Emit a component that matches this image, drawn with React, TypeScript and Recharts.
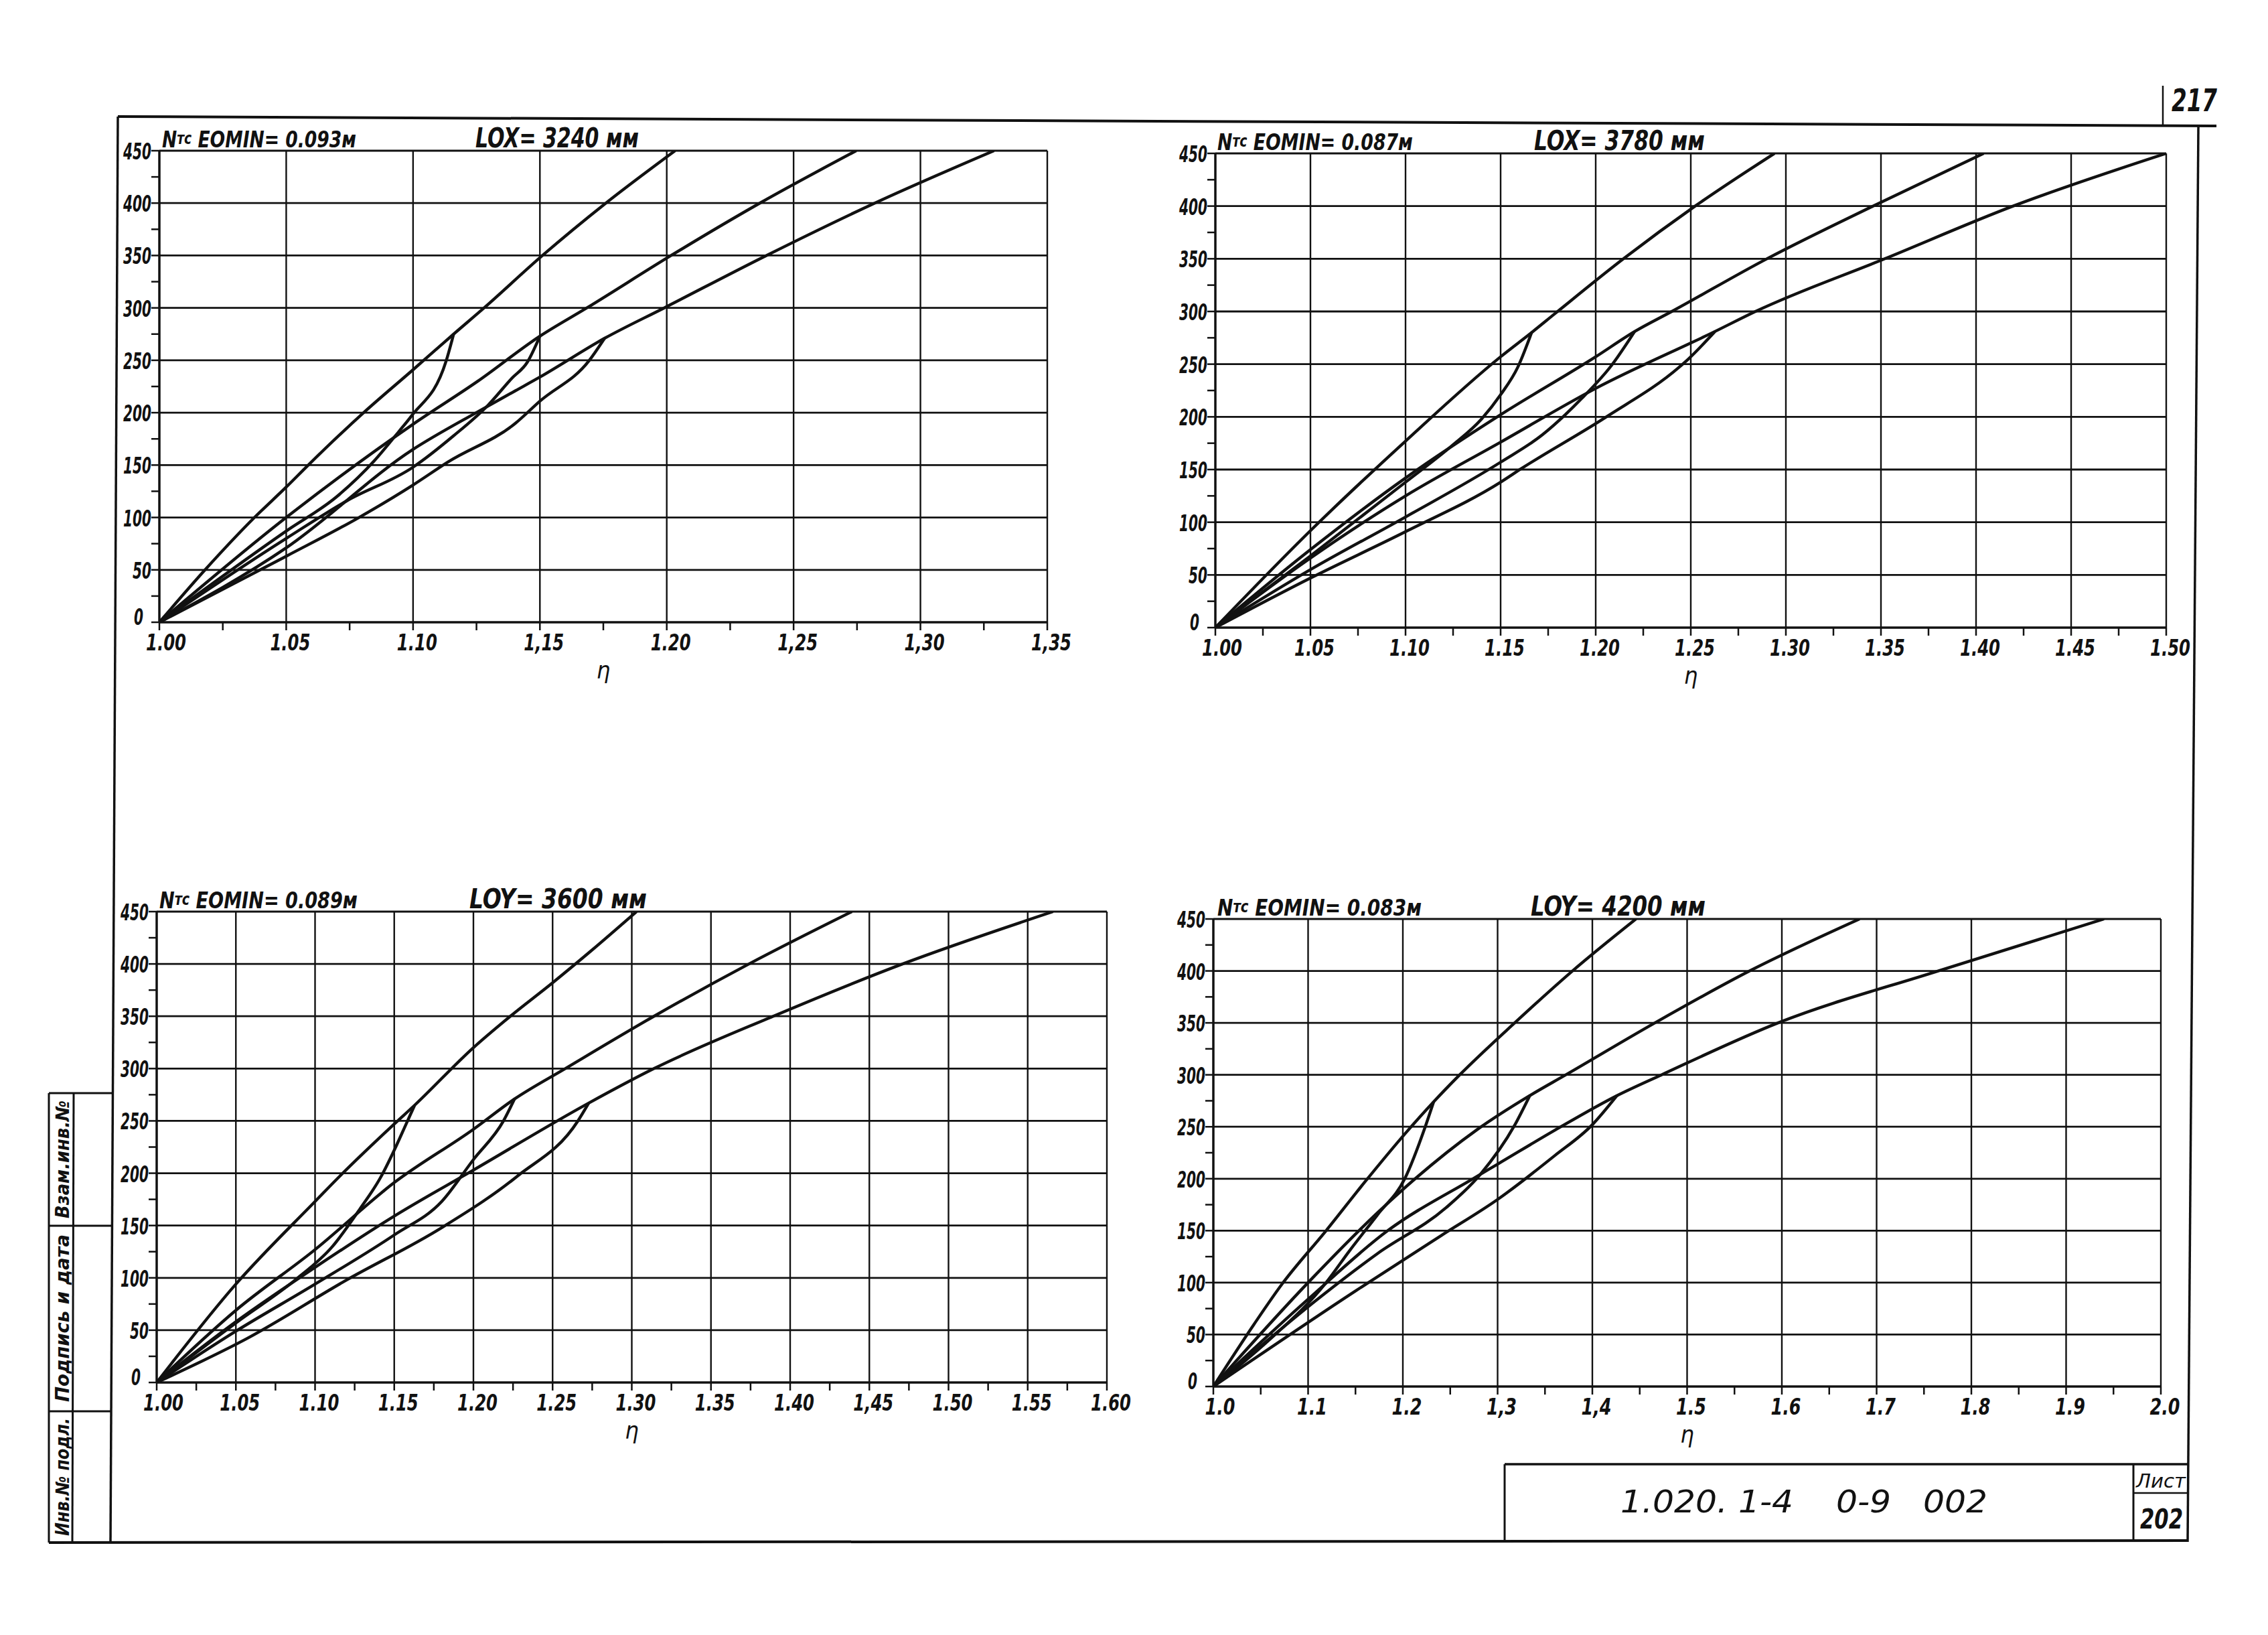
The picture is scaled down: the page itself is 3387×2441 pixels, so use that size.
import { LineChart, Line, XAxis, YAxis, ReferenceLine } from "recharts";

type Pt = [number, number];

const FONT = "'DejaVu Sans Condensed', 'DejaVu Sans', sans-serif";
const INK = "#111";

// N (kN) axis, same on all four panels
const yMajor = [0, 50, 100, 150, 200, 250, 300, 350, 400, 450];
const yLabels = ["0", "50", "100", "150", "200", "250", "300", "350", "400", "450"];

// panel 1: LOX = 3240 mm
const lox3240Ticks = [1.0, 1.05, 1.1, 1.15, 1.2, 1.25, 1.3, 1.35];
const lox3240Labels = ["1.00", "1.05", "1.10", "1,15", "1.20", "1,25", "1,30", "1,35"];
const lox3240A: Pt[] = [[1, 0], [1.018, 50], [1.0375, 100], [1.05, 129], [1.0587, 150], [1.0805, 200], [1.1, 241], [1.116, 275], [1.128, 300], [1.151, 350], [1.176, 400], [1.2033, 450]];
const lox3240ALow: Pt[] = [[1, 0], [1.05, 87], [1.07, 120], [1.0847, 154], [1.0944, 182], [1.0994, 197], [1.113, 249], [1.116, 275]];
const lox3240B: Pt[] = [[1, 0], [1.05, 100], [1.1, 189], [1.1255, 230], [1.15, 273], [1.1685, 300], [1.2017, 350], [1.2367, 400], [1.2747, 450]];
const lox3240BLow: Pt[] = [[1, 0], [1.05, 80], [1.074, 116], [1.1, 148], [1.116, 178], [1.1295, 207], [1.139, 233], [1.145, 248], [1.15, 273]];
const lox3240C: Pt[] = [[1, 0], [1.05, 71], [1.1, 165], [1.1256, 201], [1.1404, 221], [1.15, 234], [1.1755, 271], [1.199, 300], [1.2393, 350], [1.282, 400], [1.329, 450]];
const lox3240CLow: Pt[] = [[1, 0], [1.05, 63], [1.0787, 100], [1.1, 131], [1.1138, 153], [1.1404, 190], [1.15, 211], [1.1695, 250], [1.1755, 271]];

// panel 2: LOX = 3780 mm
const lox3780Ticks = [1.0, 1.05, 1.1, 1.15, 1.2, 1.25, 1.3, 1.35, 1.4, 1.45, 1.5];
const lox3780Labels = ["1.00", "1.05", "1.10", "1.15", "1.20", "1.25", "1.30", "1.35", "1.40", "1.45", "1.50"];
const lox3780A: Pt[] = [[1, 0], [1.05, 92], [1.1, 177], [1.15, 257], [1.1663, 280], [1.1786, 298], [1.2146, 350], [1.2523, 400], [1.294, 450]];
const lox3780ALow: Pt[] = [[1, 0], [1.05, 68], [1.1, 138], [1.124, 172], [1.14, 198], [1.15, 221], [1.159, 247], [1.1663, 280]];
const lox3780B: Pt[] = [[1, 0], [1.05, 74], [1.1, 142], [1.15, 202], [1.2, 257], [1.2205, 281], [1.24, 300], [1.29, 350], [1.3458, 400], [1.404, 450]];
const lox3780BLow: Pt[] = [[1, 0], [1.05, 55], [1.1, 105], [1.15, 157], [1.172, 183], [1.184, 202], [1.1924, 217], [1.2084, 249], [1.2205, 281]];
const lox3780C: Pt[] = [[1, 0], [1.05, 66], [1.1, 125], [1.15, 176], [1.2, 227], [1.2627, 281], [1.284, 300], [1.352, 350], [1.4195, 400], [1.5, 450]];
const lox3780CLow: Pt[] = [[1, 0], [1.05, 47], [1.1, 91], [1.15, 138], [1.161, 151], [1.2056, 200], [1.2438, 247], [1.2488, 255], [1.2627, 281]];

// panel 3: LOY = 3600 mm
const loy3600Ticks = [1.0, 1.05, 1.1, 1.15, 1.2, 1.25, 1.3, 1.35, 1.4, 1.45, 1.5, 1.55, 1.6];
const loy3600Labels = ["1.00", "1.05", "1.10", "1.15", "1.20", "1.25", "1.30", "1.35", "1.40", "1,45", "1.50", "1.55", "1.60"];
const loy3600A: Pt[] = [[1, 0], [1.05, 94], [1.1, 173], [1.1155, 197], [1.15, 247], [1.1629, 265], [1.2, 320], [1.2233, 350], [1.25, 382], [1.2747, 413], [1.303, 450]];
const loy3600ALow: Pt[] = [[1, 0], [1.051, 58], [1.0875, 98], [1.111, 130], [1.1284, 166], [1.1414, 196], [1.15, 222], [1.1578, 248], [1.1629, 265]];
const loy3600B: Pt[] = [[1, 0], [1.05, 69], [1.1, 127], [1.15, 191], [1.2, 242], [1.226, 271], [1.258, 300], [1.314, 350], [1.374, 400], [1.439, 450]];
const loy3600BLow: Pt[] = [[1, 0], [1.05, 49], [1.1, 94], [1.15, 141], [1.18, 173], [1.2, 213], [1.219, 250], [1.226, 271]];
const loy3600C: Pt[] = [[1, 0], [1.05, 58], [1.1, 110], [1.15, 159], [1.2, 203], [1.2728, 267], [1.314, 300], [1.3893, 350], [1.471, 400], [1.566, 450]];
const loy3600CLow: Pt[] = [[1, 0], [1.057, 42], [1.12, 98], [1.18, 148], [1.2276, 197], [1.266, 250], [1.2728, 267]];

// panel 4: LOY = 4200 mm
const loy4200Ticks = [1.0, 1.1, 1.2, 1.3, 1.4, 1.5, 1.6, 1.7, 1.8, 1.9, 2.0];
const loy4200Labels = ["1.0", "1.1", "1.2", "1,3", "1,4", "1.5", "1.6", "1.7", "1.8", "1.9", "2.0"];
const loy4200A: Pt[] = [[1, 0], [1.043, 60], [1.072, 98], [1.119, 150], [1.16, 197], [1.202, 243], [1.2325, 274], [1.26, 300], [1.318, 350], [1.379, 400], [1.446, 450]];
const loy4200ALow: Pt[] = [[1, 0], [1.058, 44], [1.119, 100], [1.144, 131], [1.173, 165], [1.202, 200], [1.224, 251], [1.2325, 274]];
const loy4200B: Pt[] = [[1, 0], [1.1, 100], [1.173, 167], [1.213, 200], [1.278, 247], [1.334, 280], [1.372, 300], [1.466, 350], [1.566, 400], [1.682, 450]];
const loy4200BLow: Pt[] = [[1, 0], [1.1155, 88], [1.1733, 128], [1.2455, 172], [1.2816, 204], [1.3177, 251], [1.334, 280]];
const loy4200C: Pt[] = [[1, 0], [1.1, 84], [1.184, 150], [1.274, 200], [1.3, 214], [1.361, 247], [1.426, 280], [1.473, 300], [1.596, 350], [1.765, 400], [1.94, 450]];
const loy4200CLow: Pt[] = [[1, 0], [1.15, 92], [1.24, 145], [1.3, 180], [1.36, 222], [1.4, 252], [1.426, 280]];

const AXIS_W = 90;
const M_TOP = 20;
const M_RIGHT = 70;
const X_H = 100;

const panels = [
  { id: "p1", plotX: 238, plotY: 225, plotW: 1326, plotH: 704, ticks: lox3240Ticks, labels: lox3240Labels,
    series: [lox3240A, lox3240ALow, lox3240B, lox3240BLow, lox3240C, lox3240CLow] },
  { id: "p2", plotX: 1815, plotY: 229, plotW: 1420, plotH: 708, ticks: lox3780Ticks, labels: lox3780Labels,
    series: [lox3780A, lox3780ALow, lox3780B, lox3780BLow, lox3780C, lox3780CLow] },
  { id: "p3", plotX: 234, plotY: 1361, plotW: 1419, plotH: 703, ticks: loy3600Ticks, labels: loy3600Labels,
    series: [loy3600A, loy3600ALow, loy3600B, loy3600BLow, loy3600C, loy3600CLow] },
  { id: "p4", plotX: 1812, plotY: 1372, plotW: 1415, plotH: 698, ticks: loy4200Ticks, labels: loy4200Labels,
    series: [loy4200A, loy4200ALow, loy4200B, loy4200BLow, loy4200C, loy4200CLow] },
];

const titles = [
  { x: 242, y: 220, n: "0.093м", nLen: 290, l: "LOX= 3240 мм", lx: 710, lLen: 244 },
  { x: 1818, y: 224, n: "0.087м", nLen: 292, l: "LOX= 3780 мм", lx: 2291, lLen: 255 },
  { x: 238, y: 1356, n: "0.089м", nLen: 296, l: "LOY= 3600 мм", lx: 701, lLen: 265 },
  { x: 1818, y: 1367, n: "0.083м", nLen: 305, l: "LOY= 4200 мм", lx: 2286, lLen: 261 },
];

const toRows = (pts: Pt[]) => pts.map(([eta, n]) => ({ eta, n }));
const withMinor = (major: number[]) => {
  const out: number[] = [];
  major.forEach((v, i) => {
    out.push(v);
    if (i < major.length - 1) out.push(+((v + major[i + 1]) / 2).toFixed(4));
  });
  return out;
};
const findMajor = (major: number[], v: number) => major.findIndex((m) => Math.abs(m - v) < 1e-6);

const textStyle = { fontFamily: FONT, fontStyle: "italic" as const, fontWeight: "bold" as const, fill: INK };

function Panel({ cfg }: { cfg: (typeof panels)[number] }) {
  const xTick = (p: any) => {
    const i = findMajor(cfg.ticks, p.payload.value);
    return (
      <g>
        <line x1={p.x} y1={p.y} x2={p.x} y2={p.y + 12} stroke={INK} strokeWidth={2.5} />
        {i >= 0 && (
          <text x={p.x + (i === 0 ? 10 : 6)} y={p.y + 42} textAnchor="middle" fontSize={33}
            textLength={cfg.labels[i].length * 15} lengthAdjust="spacingAndGlyphs" {...textStyle}>
            {cfg.labels[i]}
          </text>
        )}
      </g>
    );
  };
  const yTick = (p: any) => {
    const i = findMajor(yMajor, p.payload.value);
    const lab = yLabels[i] ?? "";
    return (
      <g>
        <line x1={p.x - 12} y1={p.y} x2={p.x} y2={p.y} stroke={INK} strokeWidth={2.5} />
        {i >= 0 && (
          <text x={p.x - (i === 0 ? 24 : 12)} y={p.y + (i === 0 ? 4 : 13)} textAnchor="end" fontSize={33}
            textLength={lab.length * 14} lengthAdjust="spacingAndGlyphs" {...textStyle}>
            {lab}
          </text>
        )}
      </g>
    );
  };
  const xMin = cfg.ticks[0];
  const xMax = cfg.ticks[cfg.ticks.length - 1];
  return (
    <div style={{ position: "absolute", left: cfg.plotX - AXIS_W, top: cfg.plotY - M_TOP }}>
      <LineChart
        width={AXIS_W + cfg.plotW + M_RIGHT}
        height={M_TOP + cfg.plotH + X_H}
        margin={{ top: M_TOP, right: M_RIGHT, bottom: 0, left: 0 }}
      >
        <XAxis
          type="number"
          dataKey="eta"
          domain={[xMin, xMax]}
          ticks={withMinor(cfg.ticks)}
          interval={0}
          allowDataOverflow
          height={X_H}
          axisLine={{ stroke: INK, strokeWidth: 3.5 }}
          tickLine={false}
          tickSize={0}
          tickMargin={0}
          tick={xTick}
          label={{ value: "η", position: "insideBottom", offset: 16, fontSize: 36, fontStyle: "italic", fill: INK, fontFamily: FONT }}
        />
        <YAxis
          type="number"
          domain={[0, 450]}
          ticks={withMinor(yMajor)}
          interval={0}
          allowDataOverflow
          width={AXIS_W}
          axisLine={{ stroke: INK, strokeWidth: 3.5 }}
          tickLine={false}
          tickSize={0}
          tickMargin={0}
          tick={yTick}
        />
        {cfg.ticks.slice(1).map((v) => (
          <ReferenceLine key={"gx" + v} x={v} stroke={INK} strokeWidth={2.4} />
        ))}
        {yMajor.slice(1).map((v) => (
          <ReferenceLine key={"gy" + v} y={v} stroke={INK} strokeWidth={2.8} />
        ))}
        {cfg.series.map((s, i) => (
          <Line
            key={cfg.id + i}
            data={toRows(s)}
            dataKey="n"
            type="monotone"
            stroke={INK}
            strokeWidth={4.4}
            dot={false}
            isAnimationActive={false}
          />
        ))}
      </LineChart>
    </div>
  );
}

function Sheet() {
  return (
    <svg width={3387} height={2441} style={{ position: "absolute", left: 0, top: 0 }}>
      {/* sheet frame */}
      <line x1={176} y1={174} x2={3310} y2={188} stroke={INK} strokeWidth={4} />
      <line x1={176} y1={174} x2={165} y2={2303} stroke={INK} strokeWidth={3.5} />
      <line x1={3283} y1={188} x2={3267} y2={2302} stroke={INK} strokeWidth={3.5} />
      <line x1={73} y1={2303} x2={3267} y2={2300} stroke={INK} strokeWidth={4} />
      <line x1={3230} y1={128} x2={3230} y2={188} stroke={INK} strokeWidth={2.5} />
      <text x={3243} y={166} fontSize={46} textLength={68} lengthAdjust="spacingAndGlyphs" {...textStyle}>217</text>

      {/* left strip */}
      <line x1={73} y1={1632} x2={73} y2={2303} stroke={INK} strokeWidth={3} />
      <line x1={110} y1={1632} x2={108} y2={2303} stroke={INK} strokeWidth={3} />
      <line x1={73} y1={1632} x2={168} y2={1632} stroke={INK} strokeWidth={3} />
      <line x1={73} y1={1830} x2={167} y2={1830} stroke={INK} strokeWidth={3} />
      <line x1={73} y1={2107} x2={166} y2={2107} stroke={INK} strokeWidth={3} />
      <text transform="translate(103,1731) rotate(-90)" textAnchor="middle" fontSize={28}
        textLength={176} lengthAdjust="spacingAndGlyphs" {...textStyle}>Взам.инв.№</text>
      <text transform="translate(103,1968) rotate(-90)" textAnchor="middle" fontSize={28}
        textLength={250} lengthAdjust="spacingAndGlyphs" {...textStyle}>Подпись и дата</text>
      <text transform="translate(103,2205) rotate(-90)" textAnchor="middle" fontSize={28}
        textLength={176} lengthAdjust="spacingAndGlyphs" {...textStyle}>Инв.№ подл.</text>

      {/* panel captions */}
      {titles.map((t, i) => (
        <g key={"t" + i}>
          <text x={t.x} y={t.y} fontSize={34} textLength={t.nLen} lengthAdjust="spacingAndGlyphs" {...textStyle}>
            N<tspan fontSize={24} dy={-5}>тс</tspan>
            <tspan dy={5}>{"  EOMIN= " + t.n}</tspan>
          </text>
          <text x={t.lx} y={t.y} fontSize={40} textLength={t.lLen} lengthAdjust="spacingAndGlyphs" {...textStyle}>
            {t.l}
          </text>
        </g>
      ))}

      {/* title block */}
      <line x1={2247} y1={2186} x2={3267} y2={2186} stroke={INK} strokeWidth={3.5} />
      <line x1={2247} y1={2186} x2={2247} y2={2302} stroke={INK} strokeWidth={3} />
      <line x1={3186} y1={2186} x2={3186} y2={2302} stroke={INK} strokeWidth={3} />
      <line x1={3186} y1={2229} x2={3267} y2={2229} stroke={INK} strokeWidth={2.5} />
      <text x={2420} y={2258} fontSize={46} textLength={548} lengthAdjust="spacingAndGlyphs" {...textStyle} fontWeight="normal" style={{ whiteSpace: "pre" }}>
        {"1.020. 1-4    0-9   002"}
      </text>
      <text x={3190} y={2221} fontSize={28} textLength={74} lengthAdjust="spacingAndGlyphs" {...textStyle} fontWeight="normal">Лист</text>
      <text x={3196} y={2282} fontSize={40} textLength={64} lengthAdjust="spacingAndGlyphs" {...textStyle}>202</text>
    </svg>
  );
}

export default function App() {
  return (
    <div style={{ position: "absolute", left: 0, top: 0, width: 3387, height: 2441, background: "#fff", overflow: "hidden" }}>
      <Sheet />
      {panels.map((p) => (
        <Panel key={p.id} cfg={p} />
      ))}
    </div>
  );
}
